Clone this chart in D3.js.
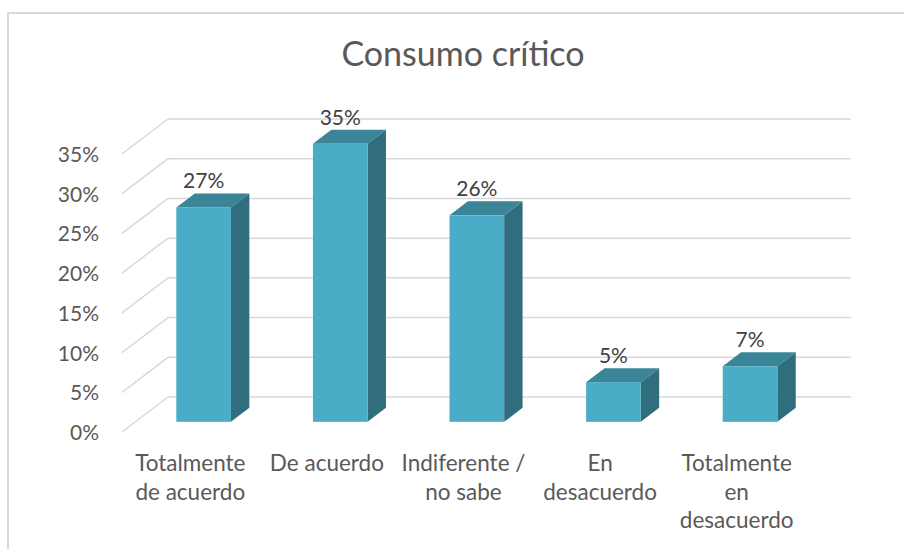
<!DOCTYPE html>
<html>
<head>
<meta charset="utf-8">
<script src="https://cdn.jsdelivr.net/npm/d3@7"></script>
<style>
  body { margin: 0; background: #fff; }
  text { font-family: Lato, "Open Sans", sans-serif; }
</style>
</head>
<body>
<svg id="main" width="904" height="549"></svg>
<script>
// datos
var categorias = ["Totalmente de acuerdo", "De acuerdo", "Indiferente / no sabe", "En desacuerdo", "Totalmente en desacuerdo"]
var etiquetas = [["Totalmente", "de acuerdo"], ["De acuerdo"], ["Indiferente /", "no sabe"], ["En", "desacuerdo"], ["Totalmente", "en", "desacuerdo"]]
var valores = [0.27, 0.35, 0.26, 0.05, 0.07]
var ticks = [0, 0.05, 0.10, 0.15, 0.20, 0.25, 0.30, 0.35]
var titulo = "Consumo crítico"

var svg = d3.select('#main')

// marco
svg.append('rect')
    .attr('x', 8).attr('y', 13)
    .attr('width', 920).attr('height', 560)
    .attr('fill', 'none')
    .attr('stroke', '#d9d9d9')
    .attr('stroke-width', 2)

svg.append('text')
    .attr('x', 463).attr('y', 66)
    .attr('text-anchor', 'middle')
    .attr('fill', '#595959')
    .style('font-size', '34px')
    .text(titulo)

// profundidad del piso (vista 3D)
var depth = { dx: 46, dy: -35 }
var f0 = 0.29, f1 = 0.69

var x = d3.scaleBand().domain(categorias).range([122, 805]).paddingInner(0.6).paddingOuter(0.3)
var xc = d3.scaleBand().domain(categorias).range([122, 805])
var y = d3.scaleLinear().domain([0, 0.35]).range([432, 154])

// lineas de la pared del fondo y pared lateral
var grid = svg.append('g')
grid.selectAll('line.back').data(ticks).enter().append('line')
    .attr('class', 'back')
    .attr('x1', 122 + depth.dx).attr('x2', 805 + depth.dx)
    .attr('y1', function(d) { return y(d) + depth.dy })
    .attr('y2', function(d) { return y(d) + depth.dy })
    .attr('stroke', '#d9d9d9').attr('stroke-width', 1.5)
grid.selectAll('line.side').data(ticks).enter().append('line')
    .attr('class', 'side')
    .attr('x1', 122).attr('x2', 122 + depth.dx)
    .attr('y1', function(d) { return y(d) })
    .attr('y2', function(d) { return y(d) + depth.dy })
    .attr('stroke', '#d9d9d9').attr('stroke-width', 1.5)

// eje y
svg.append('g').selectAll('text').data(ticks).enter().append('text')
    .attr('x', 99)
    .attr('y', function(d) { return y(d) + 8 })
    .attr('text-anchor', 'end')
    .attr('fill', '#595959')
    .style('font-size', '21px')
    .text(d3.format('.0%'))

// barras
var fx = depth.dx * f0, fy = depth.dy * f0
var sx = depth.dx * (f1 - f0), sy = depth.dy * (f1 - f0)
var bars = svg.append('g').selectAll('g').data(valores).enter().append('g')

bars.append('path')
    .attr('fill', '#3a8597')
    .attr('d', function(d, i) {
        var x0 = x(categorias[i]) + fx, x1 = x0 + x.bandwidth(), yt = y(d) + fy
        return 'M' + x0 + ',' + yt + 'L' + (x0 + sx) + ',' + (yt + sy) + 'L' + (x1 + sx) + ',' + (yt + sy) + 'L' + x1 + ',' + yt + 'Z'
    })
bars.append('path')
    .attr('fill', '#316e7d')
    .attr('d', function(d, i) {
        var x1 = x(categorias[i]) + fx + x.bandwidth(), yt = y(d) + fy, yb = y(0) + fy
        return 'M' + x1 + ',' + yt + 'L' + (x1 + sx) + ',' + (yt + sy) + 'L' + (x1 + sx) + ',' + (yb + sy) + 'L' + x1 + ',' + yb + 'Z'
    })
bars.append('rect')
    .attr('x', function(d, i) { return x(categorias[i]) + fx })
    .attr('y', function(d) { return y(d) + fy })
    .attr('width', x.bandwidth())
    .attr('height', function(d) { return y(0) - y(d) })
    .attr('fill', '#4aacc6')

// etiquetas de datos
bars.append('text')
    .attr('x', function(d, i) { return x(categorias[i]) + fx + x.bandwidth() / 2 })
    .attr('y', function(d) { return y(d) + fy - 19 })
    .attr('text-anchor', 'middle')
    .attr('fill', '#404040')
    .style('font-size', '21px')
    .text(d3.format('.0%'))

// etiquetas de categoria
var cat = svg.append('g').selectAll('text').data(etiquetas).enter().append('text')
    .attr('text-anchor', 'middle')
    .attr('fill', '#595959')
    .style('font-size', '22.5px')
cat.selectAll('tspan').data(function(d, i) { return d.map(function(t) { return { t: t, i: i } }) })
    .enter().append('tspan')
    .attr('x', function(d) { return xc(categorias[d.i]) + xc.bandwidth() / 2 })
    .attr('y', function(d, j) { return 471 + j * 28.5 })
    .text(function(d) { return d.t })
</script>
</body>
</html>
